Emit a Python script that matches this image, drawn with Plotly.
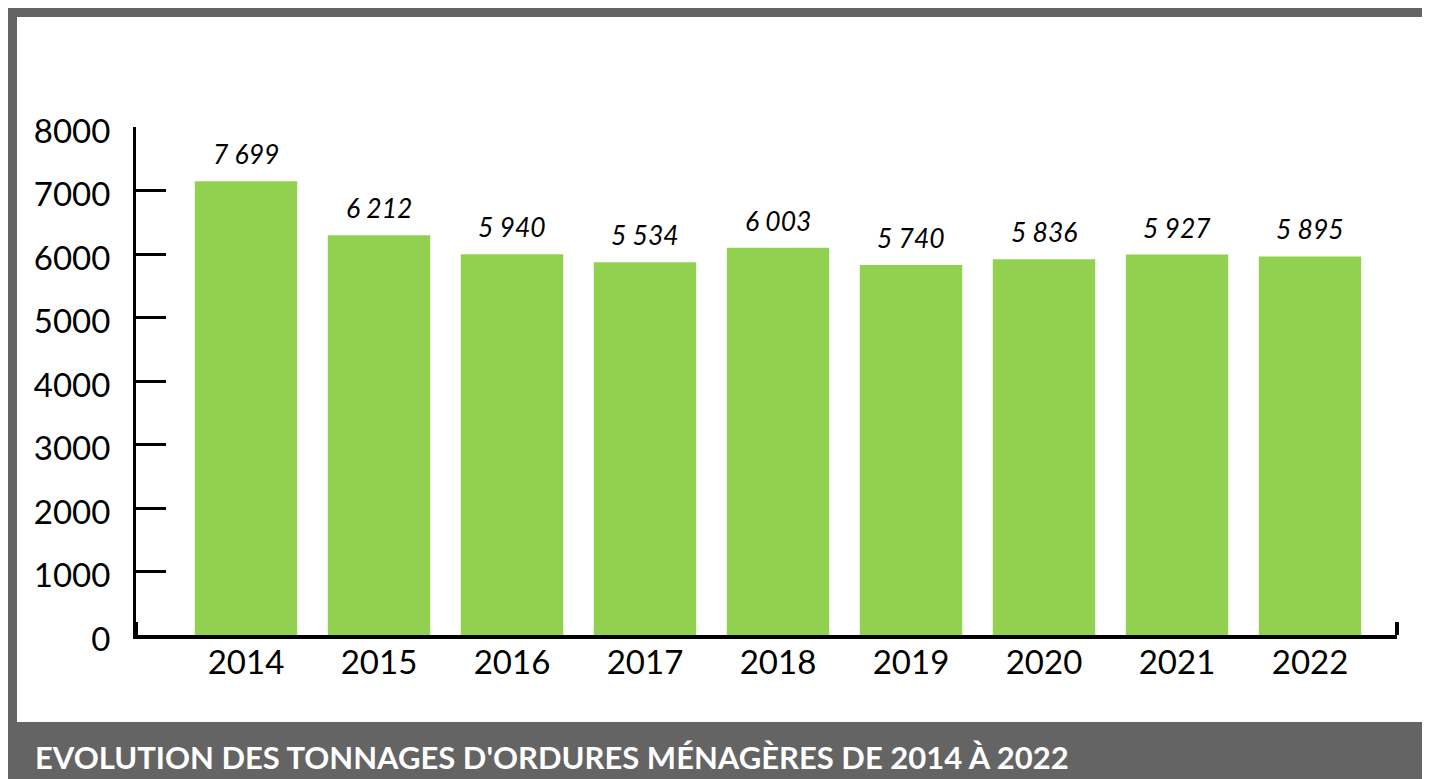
import plotly.graph_objects as go

# ---- data ----
years = ["2014", "2015", "2016", "2017", "2018", "2019", "2020", "2021", "2022"]
bar_values = [7147, 6297, 5998, 5872, 6097, 5825, 5919, 5992, 5962]
value_labels = ["7 699", "6 212", "5 940", "5 534", "6 003", "5 740", "5 836", "5 927", "5 895"]
y_ticks = [0, 1000, 2000, 3000, 4000, 5000, 6000, 7000, 8000]
title_text = "EVOLUTION DES TONNAGES D'ORDURES MÉNAGÈRES DE 2014 À 2022"

# ---- layout geometry (figure pixels; page body adds an 8px offset) ----
W, H = 1430, 779
L, R, T, B = 128, 41, 119, 152
PW, PH = W - L - R, H - T - B


def px(x):
    return (x - L) / PW


def py(y):
    return (H - B - y) / PH


GREEN = "#92D050"
GRAY = "#646464"
FONT = "Lato"

xpos = list(range(len(years)))

fig = go.Figure()
fig.add_trace(go.Bar(
    x=xpos, y=bar_values, width=0.77,
    marker=dict(color=GREEN, line=dict(width=0)),
    hoverinfo="skip", showlegend=False,
))

annotations = []
for xi, v, lab in zip(xpos, bar_values, value_labels):
    annotations.append(dict(
        x=xi, y=v, xref="x", yref="y", text=lab, showarrow=False,
        yanchor="middle", yshift=27,
        font=dict(family=FONT, size=26.5, color="#000000", style="italic"),
    ))

annotations.append(dict(
    x=px(25), y=py(749), xref="paper", yref="paper", text=title_text,
    showarrow=False, xanchor="left", yanchor="middle",
    font=dict(family=FONT, size=31, color="#FFFFFF", weight="bold"),
))

shapes = [
    dict(type="rect", xref="paper", yref="paper", x0=px(9), x1=px(1460),
         y0=py(714), y1=py(9), fillcolor="#FFFFFF", line=dict(width=0), layer="below"),
    dict(type="line", xref="paper", yref="paper", x0=0, x1=0, ysizemode="pixel",
         yanchor=0, y0=0, y1=13, line=dict(color="black", width=4)),
    dict(type="line", xref="paper", yref="paper", x0=1, x1=1, ysizemode="pixel",
         yanchor=0, y0=0, y1=13, line=dict(color="black", width=4)),
]

fig.update_layout(
    width=W, height=H,
    margin=dict(l=L, r=R, t=T, b=B, pad=0),
    paper_bgcolor=GRAY, plot_bgcolor="#FFFFFF",
    showlegend=False,
    annotations=annotations, shapes=shapes,
)
fig.update_xaxes(
    range=[-0.827, 8.654], tickmode="array", tickvals=xpos, ticktext=years,
    showline=True, linecolor="black", linewidth=4, ticks="",
    showgrid=False, zeroline=False,
    tickfont=dict(family=FONT, size=33, color="#000000"),
    ticklabelstandoff=-5,
)
fig.update_yaxes(
    range=[0, 8000], tickmode="array", tickvals=y_ticks,
    ticktext=[str(t) for t in y_ticks],
    showline=True, linecolor="black", linewidth=3,
    ticks="inside", ticklen=30, tickwidth=3, tickcolor="black",
    showgrid=False, zeroline=False,
    tickfont=dict(family=FONT, size=33, color="#000000"),
    ticklabelstandoff=16, ticklabelshift=4,
)

fig.write_html("out.html",
               post_script="document.documentElement.style.overflow='hidden';"
                           "document.body.style.overflow='hidden';")
